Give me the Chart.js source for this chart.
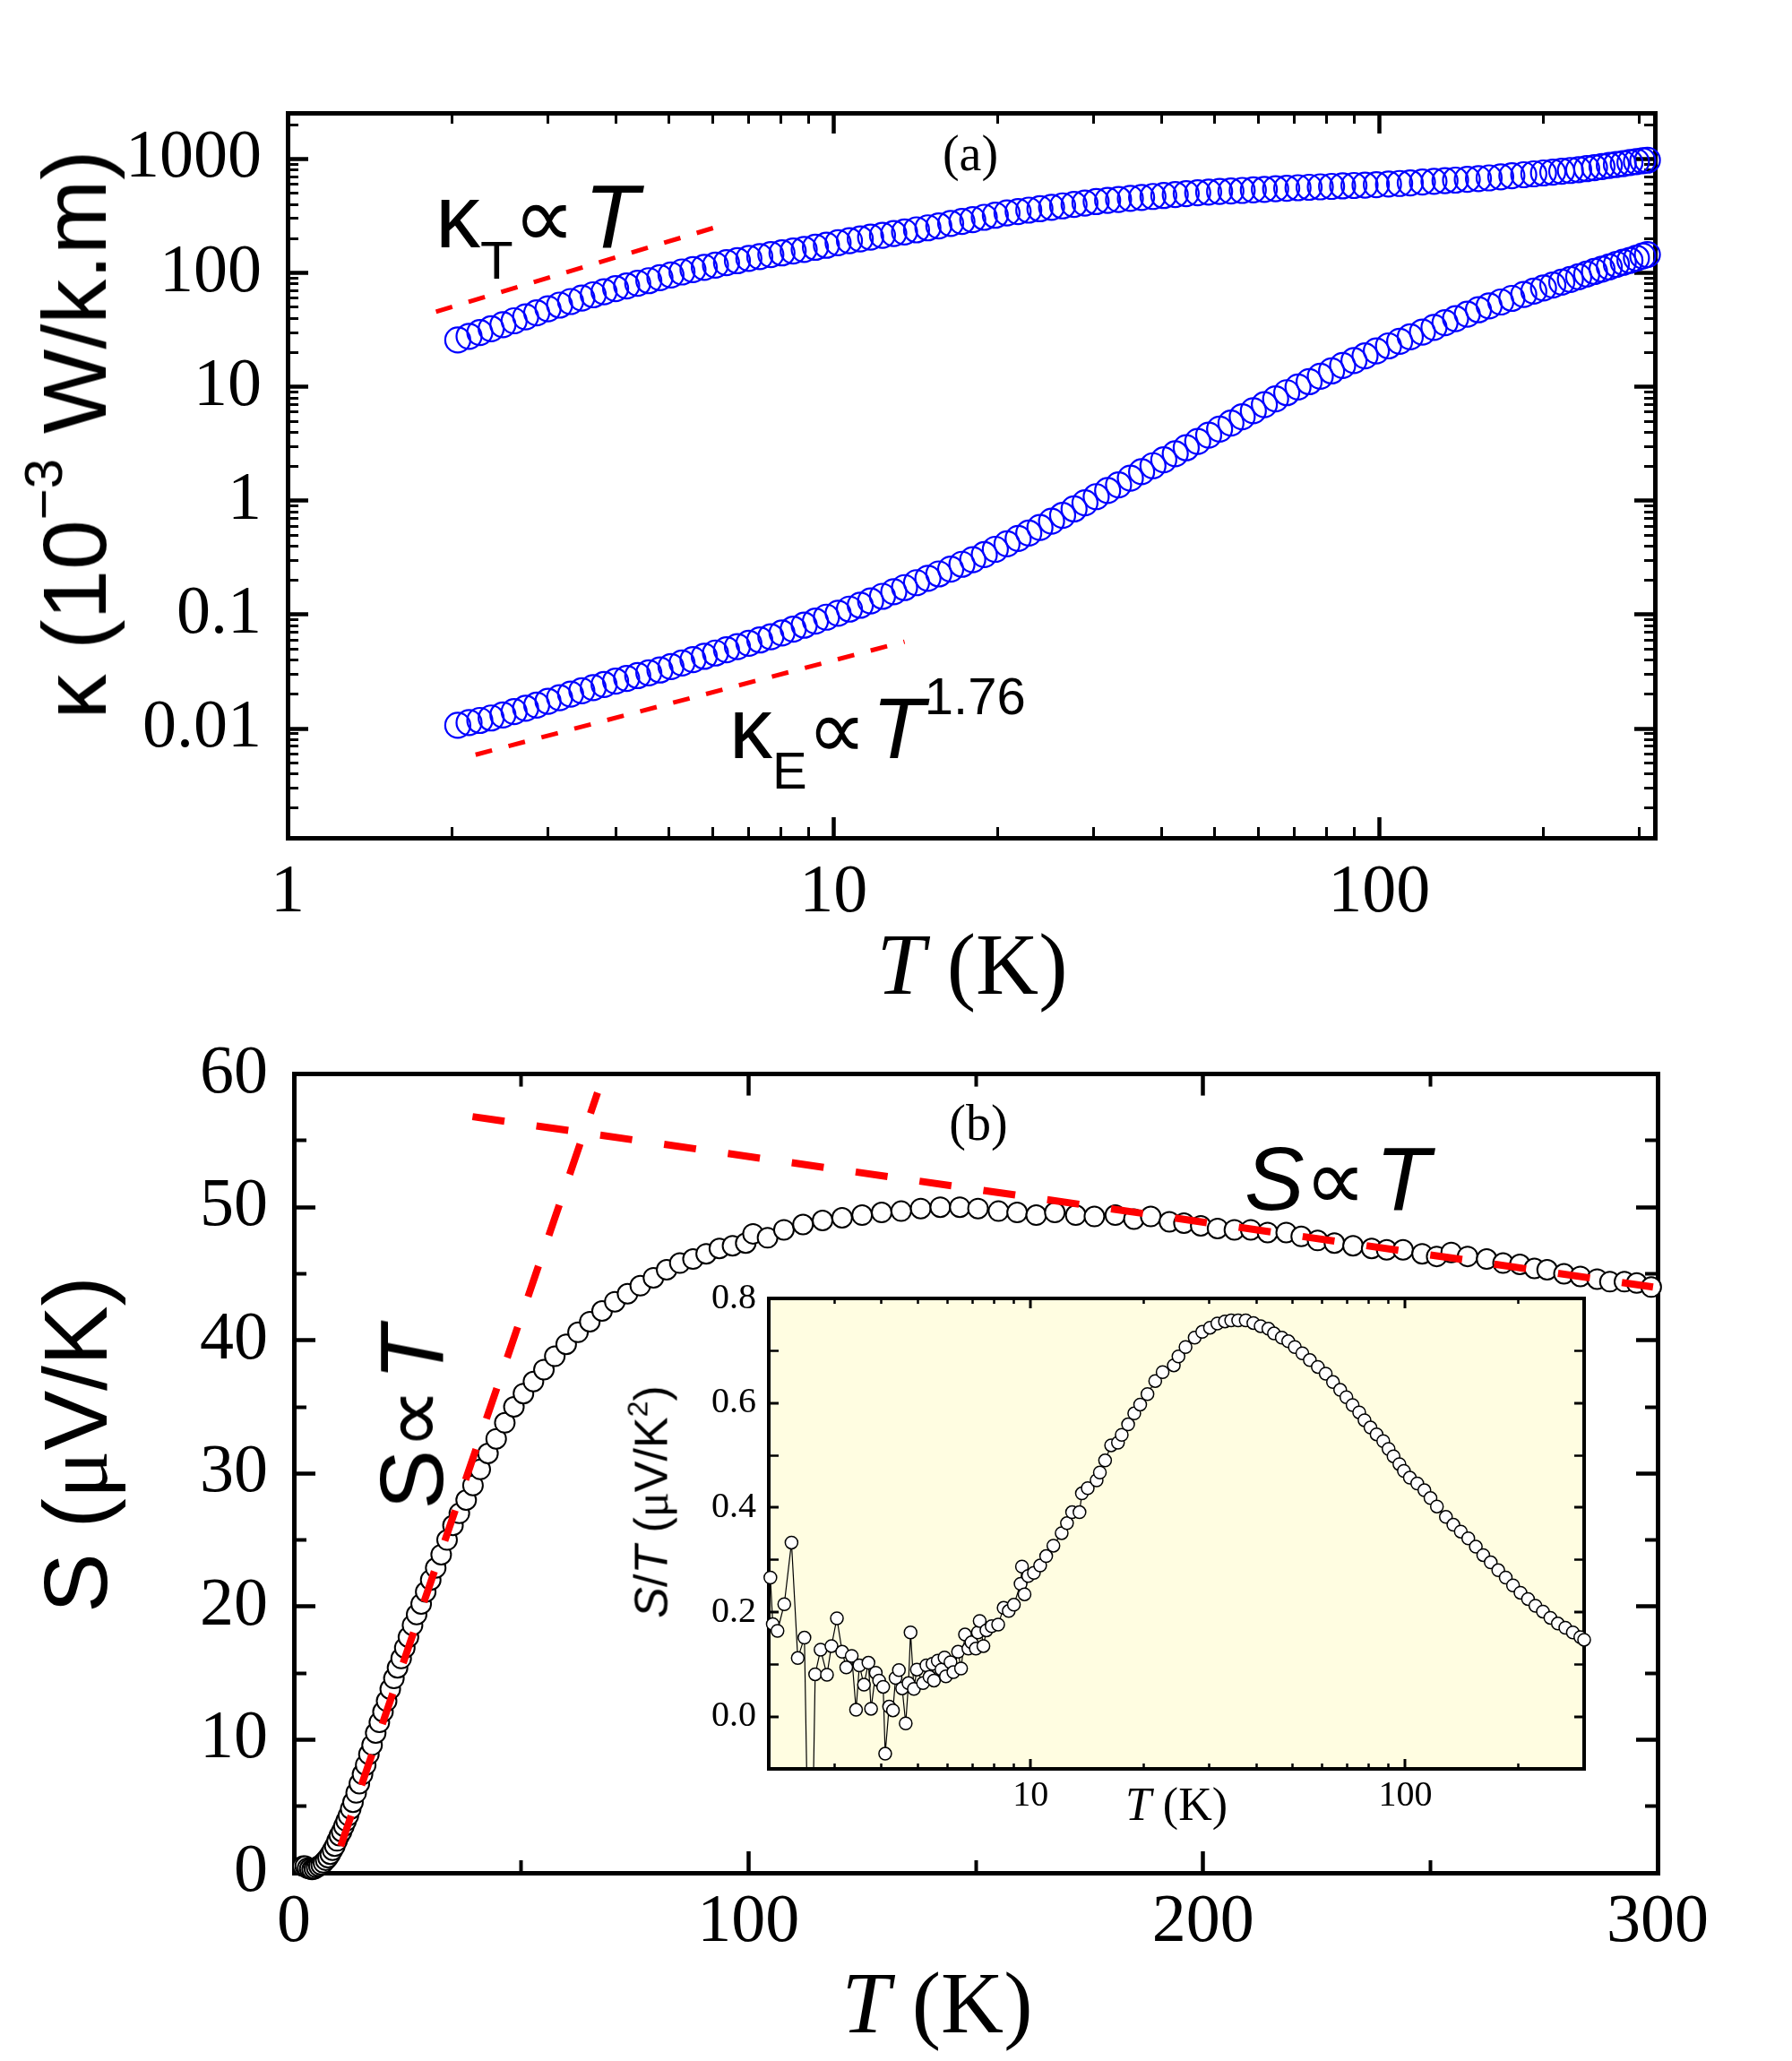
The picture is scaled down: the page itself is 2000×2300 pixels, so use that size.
<!DOCTYPE html>
<html>
<head>
<meta charset="utf-8">
<script src="https://cdn.jsdelivr.net/npm/chart.js@4.4.1/dist/chart.umd.min.js"></script>
<style>
    html, body { margin: 0; padding: 0; background: #fff; }
    #page { position: relative; width: 2000px; height: 2300px; background: #fff; overflow: hidden; }
    canvas { position: absolute; }
    .lbl { position: absolute; white-space: nowrap; line-height: 1; color: #000; z-index: 3; }
    .sans { font-family: 'Liberation Sans', Arial, sans-serif; }
    .serif { font-family: 'Liberation Serif', 'Times New Roman', serif; }
    .rot { transform: translate(-50%, -50%) rotate(-90deg); }
    .mid { transform: translateX(-50%); }
    .prop { font-family: 'DejaVu Sans', sans-serif; font-size: 0.97em; }
</style>
</head>
<body>
<div id="page">
    <canvas id="chartA" width="2000" height="1100" style="left:0;top:0;z-index:1"></canvas>
    <canvas id="chartInset" width="1200" height="700" style="left:640px;top:1400px;z-index:1"></canvas>
    <canvas id="chartB" width="2000" height="1200" style="left:0;top:1100px;z-index:2"></canvas>

    <div class="lbl sans rot" style="left:83px;top:485px;font-size:100px">κ (10<span style="font-size:60px;position:relative;top:-49px">−3</span> W/k.m)</div>
    <div class="lbl serif mid" style="left:1085px;top:1028px;font-size:97px"><i>T</i> (K)</div>
    <div class="lbl serif mid" style="left:1083px;top:143px;font-size:56px">(a)</div>
    <div class="lbl sans" style="left:486px;top:191px;font-size:100px">κ<span style="font-size:60px;position:relative;top:35px">T</span><span class="prop">∝</span><i style="margin-left:10px">T</i></div>
    <div class="lbl sans" style="left:814px;top:765px;font-size:96px">κ<span style="font-size:58px;position:relative;top:34px">E</span><span class="prop">∝</span><i style="margin-left:6px">T</i><span style="font-size:58px;position:relative;top:-49px">1.76</span></div>

    <div class="lbl sans rot" style="left:85px;top:1612px;font-size:100px">S (<span class="serif">μ</span>V/K)</div>
    <div class="lbl serif mid" style="left:1046px;top:2187px;font-size:97px"><i>T</i> (K)</div>
    <div class="lbl serif mid" style="left:1092px;top:1225px;font-size:56px">(b)</div>
    <div class="lbl sans" style="left:1389px;top:1265px;font-size:100px"><i>S</i><span class="prop">∝</span><i style="margin-left:10px">T</i></div>
    <div class="lbl sans rot" style="left:459px;top:1582px;font-size:100px">S<span class="prop">∝</span><i style="margin-left:8px">T</i></div>
    <div class="lbl serif mid" style="left:1313px;top:1988px;font-size:52px"><i>T</i> (K)</div>
    <div class="lbl sans rot" style="left:727px;top:1676px;font-size:52px"><i>S</i>/<i>T</i> (<span class="serif">μ</span>V/K<span style="font-size:32px;position:relative;top:-22px">2</span>)</div>
</div>

<script>
// ---- panel (a): thermal conductivity, log-log ----
const tempK = [2.05, 2.15, 2.25, 2.36, 2.48, 2.60, 2.73, 2.86, 3.00, 3.15,
    3.30, 3.46, 3.63, 3.80, 3.99, 4.18, 4.38, 4.59, 4.81, 5.04,
    5.28, 5.53, 5.80, 6.08, 6.37, 6.67, 7.00, 7.33, 7.68, 8.05,
    8.44, 8.84, 9.27, 9.71, 10.2, 10.7, 11.2, 11.7, 12.3, 12.9,
    13.5, 14.2, 14.9, 15.6, 16.4, 17.2, 18.0, 18.9, 19.8, 20.8,
    21.8, 22.8, 23.9, 25.1, 26.3, 27.6, 28.9, 30.3, 31.8, 33.3,
    35.0, 36.7, 38.5, 40.3, 42.3, 44.3, 46.5, 48.7, 51.0, 53.5,
    56.1, 58.8, 61.6, 64.6, 67.7, 71.0, 74.4, 78.0, 81.8, 85.7,
    89.9, 94.2, 98.8, 104, 109, 114, 120, 126, 132, 138,
    145, 152, 159, 167, 175, 184, 192, 200, 208, 216,
    224, 232, 240, 248, 256, 264, 272, 280, 288, 296,
    304, 310];
const kappaT = [25.8, 27.8, 30.0, 32.4, 35.1, 38.0, 41.2, 44.6, 48.5, 52.2,
    56.1, 60.2, 64.3, 68.4, 72.9, 76.9, 81.1, 85.5, 90.8, 96.0,
    102, 107, 112, 117, 123, 128, 134, 139, 145, 150,
    156, 161, 168, 175, 184, 192, 199, 206, 214, 222,
    229, 239, 249, 259, 272, 283, 294, 308, 321, 336,
    346, 356, 366, 377, 388, 399, 411, 423, 434, 442,
    451, 460, 469, 478, 487, 497, 506, 513, 519, 524,
    530, 536, 542, 548, 554, 560, 565, 570, 575, 581,
    586, 590, 596, 603, 610, 618, 628, 637, 646, 653,
    663, 673, 683, 698, 713, 728, 741, 755, 767, 780,
    793, 805, 823, 841, 859, 879, 896, 912, 931, 948,
    966, 977];
const kappaE = [0.0107, 0.0113, 0.0118, 0.0124, 0.0132, 0.0141, 0.0151, 0.0161, 0.0174, 0.0187,
    0.0201, 0.0215, 0.0229, 0.0244, 0.0261, 0.0276, 0.0292, 0.0309, 0.0327, 0.0351,
    0.0377, 0.0403, 0.0431, 0.0461, 0.0492, 0.0525, 0.0562, 0.0600, 0.0641, 0.0692,
    0.0748, 0.0809, 0.0879, 0.0951, 0.103, 0.112, 0.121, 0.132, 0.145, 0.159,
    0.173, 0.191, 0.209, 0.228, 0.251, 0.277, 0.304, 0.337, 0.375, 0.419,
    0.467, 0.521, 0.583, 0.663, 0.746, 0.848, 0.960, 1.087, 1.23, 1.38,
    1.58, 1.80, 2.03, 2.29, 2.59, 2.92, 3.32, 3.77, 4.26, 4.81,
    5.47, 6.17, 6.98, 7.85, 8.89, 9.98, 11.1, 12.4, 13.8, 15.4,
    17.0, 18.7, 20.7, 22.9, 25.1, 27.5, 30.3, 33.3, 36.6, 39.7,
    43.5, 47.5, 51.4, 55.6, 59.8, 64.7, 69.2, 73.8, 78.3, 83.0,
    87.7, 92.5, 97.7, 103, 108, 113, 119, 124, 129, 135,
    141, 145];
const kTFitT = [1.87, 6.4];
const kTFit = [45.6, 271];
const kEFitT = [2.21, 13.5];
const kEFit = [0.0059, 0.058];

// ---- panel (b): Seebeck coefficient ----
const seebeckT = [2.0, 2.5, 3.0, 3.5, 4.0, 4.5, 5.0, 5.5, 6.0, 6.5,
    7.0, 7.5, 8.0, 8.5, 9.0, 9.5, 10.0, 10.5, 11.0, 11.5,
    12.0, 12.5, 13.0, 13.7, 14.4, 15.1, 15.8, 16.5, 17.2, 18.0,
    18.8, 19.6, 20.4, 21.2, 22.0, 22.8, 23.6, 24.4, 25.2, 26.1,
    27.0, 28.0, 29.0, 30.1, 31.2, 32.4, 33.7, 35.0, 36.4, 37.9,
    39.4, 41.0, 42.7, 44.5, 46.4, 48.4, 50.5, 52.7, 55.0, 57.4,
    59.9, 62.5, 65.1, 67.8, 70.6, 73.4, 76.2, 79.1, 82.0, 84.9,
    87.8, 90.7, 93.6, 96.5, 99.4, 101.0, 104.2, 107.8, 112.0, 116.3,
    120.6, 125.0, 129.3, 133.6, 137.9, 142.2, 146.5, 150.5, 155.0, 159.1,
    163.3, 167.4, 172.0, 176.1, 180.7, 184.8, 188.5, 192.6, 195.8, 199.5,
    203.2, 206.9, 210.5, 214.2, 218.3, 221.6, 225.2, 228.9, 233.0, 237.1,
    240.4, 244.0, 248.2, 251.4, 254.6, 258.2, 262.4, 266.0, 269.7, 272.9,
    275.7, 279.4, 283.0, 286.7, 289.5, 292.7, 295.4, 298.6];
const seebeck = [0.5, 0.5, 0.35, 0.3, 0.25, 0.3, 0.4, 0.5, 0.6, 0.75,
    0.95, 1.15, 1.4, 1.7, 2.0, 2.4, 2.8, 3.1, 3.5, 3.9,
    4.3, 4.8, 5.3, 6.0, 6.7, 7.4, 8.1, 8.9, 9.6, 10.5,
    11.3, 12.1, 12.9, 13.8, 14.6, 15.4, 16.1, 16.9, 17.7, 18.6,
    19.4, 20.2, 21.1, 22.0, 22.9, 23.9, 25.0, 26.1, 27.0, 28.0,
    29.1, 30.3, 31.5, 32.6, 33.8, 35.0, 36.0, 36.9, 37.8, 38.8,
    39.7, 40.6, 41.4, 42.2, 42.9, 43.5, 44.1, 44.7, 45.3, 45.8,
    46.1, 46.5, 46.9, 47.1, 47.3, 48.0, 47.7, 48.3, 48.7, 49.0,
    49.2, 49.4, 49.6, 49.7, 49.9, 50.0, 50.0, 49.9, 49.7, 49.6,
    49.4, 49.6, 49.4, 49.3, 49.4, 49.1, 49.3, 48.9, 48.8, 48.6,
    48.4, 48.3, 48.3, 48.1, 48.1, 47.8, 47.5, 47.3, 47.1, 46.9,
    46.8, 46.8, 46.5, 46.3, 46.6, 46.3, 46.1, 45.8, 45.7, 45.4,
    45.3, 45.0, 44.8, 44.6, 44.4, 44.4, 44.3, 44.0];
const sLowFitT = [10.3, 66.8];
const sLowFit = [2.0, 58.6];
const sHighFitT = [39.3, 299];
const sHighFit = [56.8, 44.0];

// ---- inset: S/T ----
const insetT = [2.02, 2.05, 2.11, 2.20, 2.30, 2.39, 2.49, 2.58, 2.66, 2.75,
    2.86, 2.94, 3.04, 3.14, 3.22, 3.33, 3.42, 3.49, 3.59, 3.69,
    3.75, 3.86, 3.94, 4.04, 4.09, 4.19, 4.29, 4.36, 4.45, 4.54,
    4.64, 4.72, 4.78, 4.88, 4.97, 5.16, 5.27, 5.37, 5.47, 5.52,
    5.65, 5.78, 5.89, 5.94, 6.11, 6.22, 6.40, 6.52, 6.68, 6.82,
    6.95, 7.14, 7.23, 7.31, 7.48, 7.62, 7.87, 8.19, 8.47, 8.74,
    9.02, 9.40, 9.48, 9.63, 9.85, 10.2, 10.6, 11.0, 11.5, 12.1,
    12.5, 12.9, 13.5, 13.7, 14.2, 15.0, 15.3, 15.8, 16.4, 17.1,
    17.5, 18.2, 18.9, 19.6, 20.5, 21.5, 22.5, 24.1, 24.8, 25.9,
    27.4, 28.7, 30.1, 31.5, 33.0, 34.3, 35.8, 37.5, 39.3, 41.1,
    43.1, 44.6, 46.8, 48.7, 50.7, 53.1, 55.6, 58.4, 61.3, 64.1,
    67.0, 69.6, 72.3, 75.3, 77.8, 80.7, 83.8, 87.3, 90.2, 93.0,
    96.4, 99.1, 102.8, 107.6, 112.4, 116.7, 121.4, 128.3, 134.3, 140.6,
    147.2, 154.2, 161.4, 169.0, 177.0, 185.3, 193.8, 202.9, 212.5, 222.4,
    232.9, 243.8, 255.3, 267.3, 279.9, 293.1, 300];
const insetST = [0.266, 0.177, 0.164, 0.215, 0.333, 0.112, 0.151, -0.5, 0.081, 0.128,
    0.080, 0.135, 0.188, 0.124, 0.094, 0.116, 0.013, 0.098, 0.061, 0.103,
    0.015, 0.084, 0.069, 0.057, -0.071, 0.019, 0.012, 0.074, 0.089, 0.054,
    -0.013, 0.064, 0.161, 0.053, 0.090, 0.064, 0.098, 0.076, 0.101, 0.069,
    0.107, 0.090, 0.113, 0.077, 0.104, 0.085, 0.124, 0.092, 0.157, 0.130,
    0.142, 0.130, 0.161, 0.183, 0.135, 0.165, 0.173, 0.176, 0.208, 0.202,
    0.214, 0.254, 0.287, 0.234, 0.269, 0.275, 0.289, 0.307, 0.327, 0.351,
    0.370, 0.391, 0.391, 0.427, 0.437, 0.452, 0.467, 0.490, 0.519, 0.524,
    0.539, 0.559, 0.580, 0.597, 0.617, 0.642, 0.659, 0.672, 0.689, 0.707,
    0.725, 0.736, 0.744, 0.752, 0.756, 0.758, 0.758, 0.758, 0.753, 0.747,
    0.742, 0.733, 0.725, 0.718, 0.707, 0.695, 0.682, 0.669, 0.656, 0.640,
    0.625, 0.611, 0.596, 0.582, 0.567, 0.553, 0.540, 0.527, 0.512, 0.498,
    0.483, 0.470, 0.457, 0.446, 0.433, 0.418, 0.402, 0.382, 0.367, 0.354,
    0.341, 0.325, 0.309, 0.295, 0.280, 0.266, 0.251, 0.237, 0.225, 0.212,
    0.201, 0.189, 0.178, 0.170, 0.161, 0.152, 0.147];

// ---- tick positions ----
const logMantissas = [2, 3, 4, 5, 6, 7, 8, 9];
const topXMajor = [1, 10, 100];
const topYMajor = [0.01, 0.1, 1, 10, 100, 1000];
const botXMajor = [0, 100, 200, 300];
const botXMinor = [50, 150, 250];
const botYMajor = [0, 10, 20, 30, 40, 50, 60];
const botYMinor = [5, 15, 25, 35, 45, 55];
const insetXMajor = [10, 100];
const insetYMajor = [0, 0.2, 0.4, 0.6, 0.8];
const insetYMinor = [0.1, 0.3, 0.5, 0.7];

Chart.defaults.font.family = "'Liberation Serif', 'Times New Roman', serif";
Chart.defaults.color = '#000';

function logMinorTicks(decades, lo, hi) {
    const out = [];
    decades.forEach(d => logMantissas.forEach(m => {
        const v = Number((m * d).toPrecision(3));
        if (v > lo && v < hi) out.push(v);
    }));
    return out;
}

function points(xs, ys) {
    return xs.map((x, i) => ({ x: x, y: ys[i] }));
}

function axis(o) {
    return {
        type: o.type,
        position: o.position,
        min: o.min,
        max: o.max,
        weight: o.size ? 10 : 0,
        afterBuildTicks: (scale) => {
            scale.ticks = o.values.map(v => ({ value: v }));
        },
        afterFit: (scale) => {
            if (scale.isHorizontal()) {
                scale.height = o.size || 0;
            } else {
                scale.width = o.size || 0;
            }
        },
        grid: {
            drawOnChartArea: false,
            drawTicks: true,
            tickLength: -o.length,
            tickWidth: o.width,
            tickColor: '#000',
            lineWidth: o.border || 1,
            color: '#000',
        },
        border: {
            display: !!o.border,
            width: o.border || 0,
            color: '#000',
        },
        ticks: {
            display: !!o.label,
            autoSkip: false,
            maxRotation: 0,
            minRotation: 0,
            padding: o.padding || 0,
            font: { size: o.fontSize || 12 },
            callback: o.label || (() => ''),
        },
    };
}

// four framed sides, each with a major and a minor tick axis
function frameScales(f) {
    const xr = { type: f.xType, min: f.xMin, max: f.xMax };
    const yr = { type: f.yType, min: f.yMin, max: f.yMax };
    const yMinorLen = f.yMinorLen || f.minorLen;
    return {
        x: axis({ ...xr, position: 'bottom', values: f.xMajor, length: f.majorLen, width: f.majorWidth, border: f.border,
            size: f.bottomSize, label: f.xLabel, padding: f.xPad, fontSize: f.fontSize }),
        xMinor: axis({ ...xr, position: 'bottom', values: f.xMinor, length: f.minorLen, width: f.minorWidth }),
        xTop: axis({ ...xr, position: 'top', values: f.xMajor, length: f.majorLen, width: f.majorWidth, border: f.border }),
        xTopMinor: axis({ ...xr, position: 'top', values: f.xMinor, length: f.minorLen, width: f.minorWidth }),
        y: axis({ ...yr, position: 'left', values: f.yMajor, length: f.majorLen, width: f.majorWidth, border: f.border,
            size: f.leftSize, label: f.yLabel, padding: f.yPad, fontSize: f.fontSize }),
        yMinor: axis({ ...yr, position: 'left', values: f.yMinor, length: yMinorLen, width: f.minorWidth }),
        yRight: axis({ ...yr, position: 'right', values: f.yMajor, length: f.majorLen, width: f.majorWidth, border: f.border }),
        yRightMinor: axis({ ...yr, position: 'right', values: f.yMinor, length: yMinorLen, width: f.minorWidth }),
    };
}

function markerSet(data, radius, color, fill, width) {
    return {
        data: data,
        showLine: false,
        pointRadius: radius,
        pointBorderWidth: width,
        pointBorderColor: color,
        pointBackgroundColor: fill,
        clip: false,
    };
}

function dashSet(data, width, dash) {
    return {
        data: data,
        showLine: true,
        borderColor: '#ff0000',
        borderWidth: width,
        borderDash: dash,
        borderCapStyle: 'butt',
        pointRadius: 0,
    };
}

function baseOptions(padding, scales) {
    return {
        responsive: false,
        maintainAspectRatio: false,
        devicePixelRatio: 1,
        animation: false,
        events: [],
        layout: { padding: padding },
        plugins: {
            legend: { display: false },
            tooltip: { enabled: false },
        },
        scales: scales,
    };
}

function getConfigA() {
    return {
        type: 'scatter',
        data: {
            datasets: [
                dashSet(points(kTFitT, kTFit), 5, [19, 19]),
                dashSet(points(kEFitT, kEFit), 5, [19, 19]),
                markerSet(points(tempK, kappaT), 14, '#0000ff', 'rgba(0,0,0,0)', 2.2),
                markerSet(points(tempK, kappaE), 14, '#0000ff', 'rgba(0,0,0,0)', 2.2),
            ],
        },
        options: baseOptions({ top: 126, right: 153, left: 0, bottom: 0 }, frameScales({
            xType: 'logarithmic', xMin: 1, xMax: 320,
            yType: 'logarithmic', yMin: 0.0011, yMax: 2540,
            xMajor: topXMajor, xMinor: logMinorTicks([1, 10, 100], 1, 320),
            yMajor: topYMajor, yMinor: logMinorTicks([0.001, 0.01, 0.1, 1, 10, 100, 1000], 0.0011, 2540),
            xLabel: v => String(v), yLabel: v => String(v),
            bottomSize: 165, leftSize: 321,
            majorLen: 23, minorLen: 12, majorWidth: 4.5, minorWidth: 3, border: 5,
            fontSize: 76, xPad: 23 + 16, yPad: 23 + 29,
        })),
    };
}

function getConfigB() {
    return {
        type: 'scatter',
        data: {
            datasets: [
                dashSet(points(sLowFitT, sLowFit), 8, [36, 36]),
                dashSet(points(sHighFitT, sHighFit), 8, [36, 36]),
                markerSet(points(seebeckT, seebeck), 11, '#000', '#fff', 2),
            ],
        },
        options: baseOptions({ top: 97, right: 150, left: 0, bottom: 0 }, frameScales({
            xType: 'linear', xMin: 0, xMax: 300,
            yType: 'linear', yMin: 0, yMax: 60,
            xMajor: botXMajor, xMinor: botXMinor,
            yMajor: botYMajor, yMinor: botYMinor,
            xLabel: v => String(v), yLabel: v => String(v),
            bottomSize: 210, leftSize: 328,
            majorLen: 24, minorLen: 14, majorWidth: 4.5, minorWidth: 4, border: 5,
            fontSize: 76, xPad: 24 + 10, yPad: 24 + 29,
        })),
    };
}

const insetBackground = {
    id: 'insetBackground',
    beforeDraw: (chart) => {
        const area = chart.chartArea;
        const ctx = chart.ctx;
        ctx.save();
        ctx.fillStyle = '#fffde1';
        ctx.fillRect(area.left, area.top, area.right - area.left, area.bottom - area.top);
        ctx.restore();
    },
};

function getConfigInset() {
    return {
        type: 'scatter',
        data: {
            datasets: [
                {
                    data: points(insetT, insetST),
                    showLine: true,
                    borderColor: '#000',
                    borderWidth: 1.2,
                    pointRadius: 7,
                    pointBorderWidth: 1.5,
                    pointBorderColor: '#000',
                    pointBackgroundColor: '#fff',
                    clip: { left: 10, right: 10, top: 10, bottom: 0 },
                },
            ],
        },
        options: baseOptions({ top: 40, right: 72, left: 0, bottom: 0 }, frameScales({
            xType: 'logarithmic', xMin: 2, xMax: 300,
            yType: 'linear', yMin: -0.1, yMax: 0.8,
            xMajor: insetXMajor, xMinor: logMinorTicks([1, 10, 100], 2, 300),
            yMajor: insetYMajor, yMinor: insetYMinor,
            xLabel: v => String(v), yLabel: v => v.toFixed(1),
            bottomSize: 126, leftSize: 218,
            majorLen: 11, minorLen: 6, yMinorLen: 11, majorWidth: 3, minorWidth: 2.5, border: 4,
            fontSize: 40, xPad: 11 + 6, yPad: 11 + 14,
        })),
        plugins: [insetBackground],
    };
}

function drawChart(config, chartId) {
    const curChart = Chart.getChart(chartId);
    if (curChart) {
        curChart.destroy();
    }
    new Chart(document.getElementById(chartId), config);
}

drawChart(getConfigA(), 'chartA');
drawChart(getConfigInset(), 'chartInset');
drawChart(getConfigB(), 'chartB');
</script>
</body>
</html>
